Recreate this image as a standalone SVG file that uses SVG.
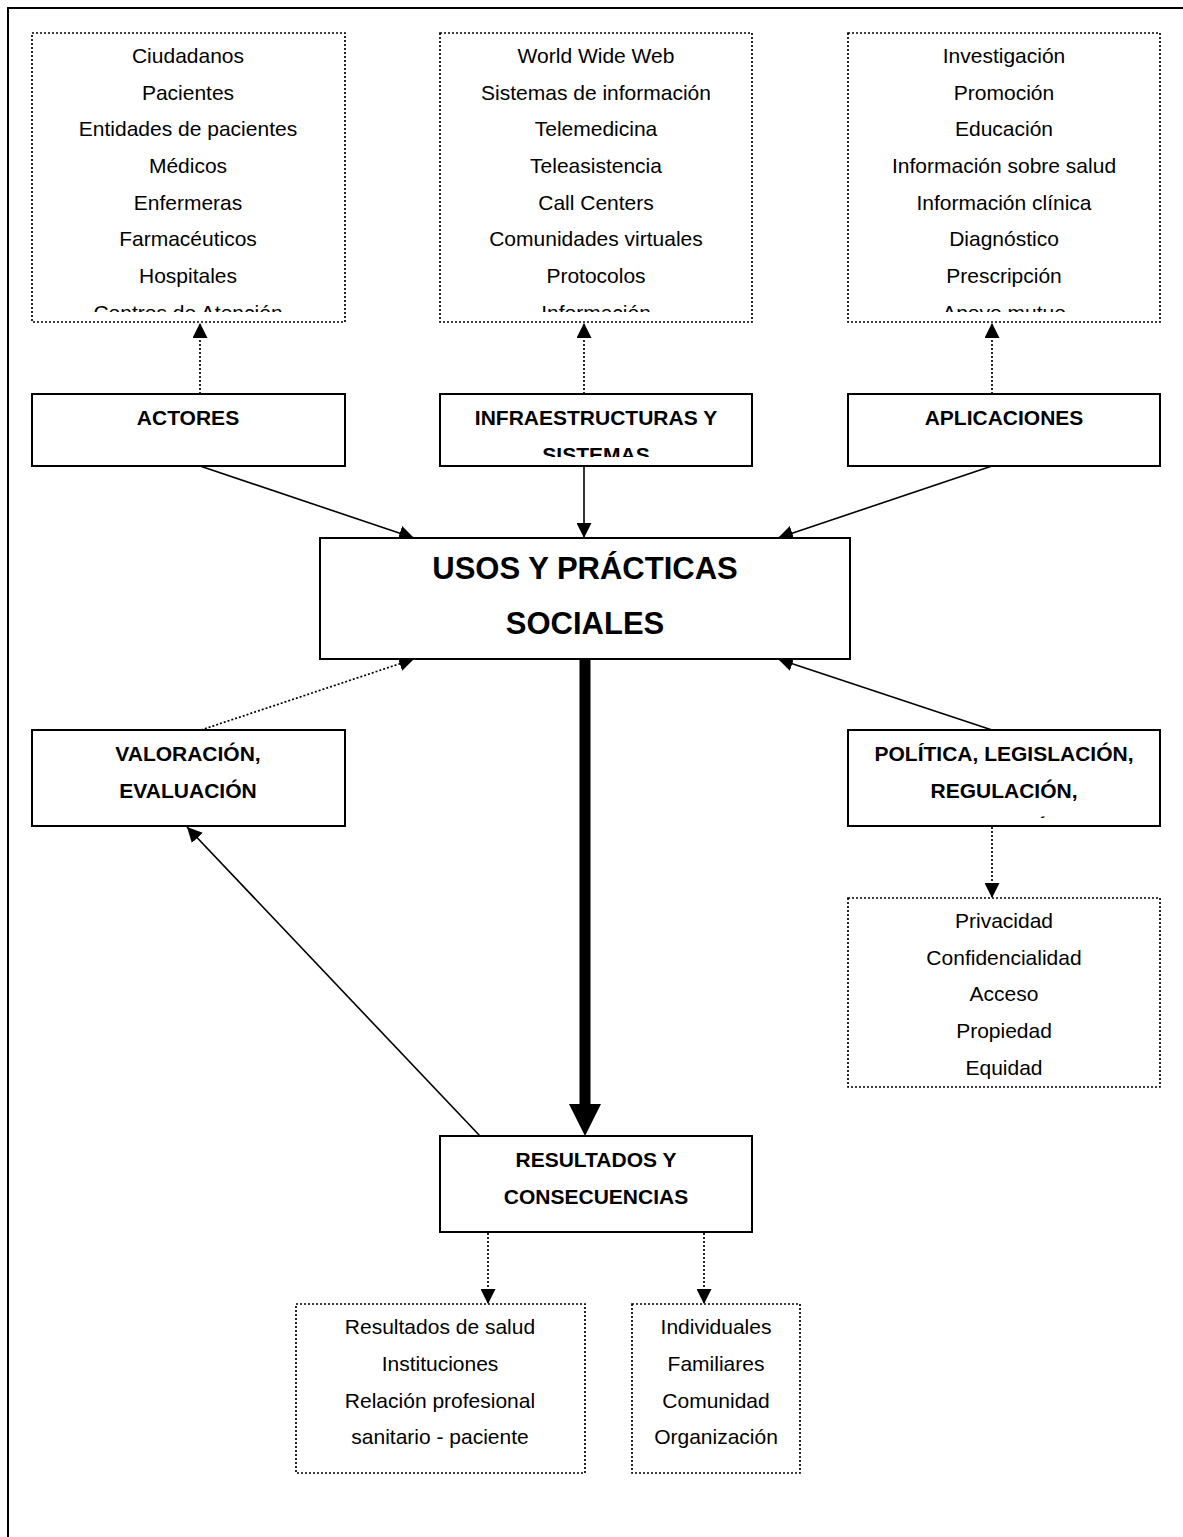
<svg xmlns="http://www.w3.org/2000/svg" width="1183" height="1537" viewBox="0 0 1183 1537">
<style>
.box{fill:#fff;stroke:#000;stroke-width:2}
.dbox{fill:#fff;stroke:#000;stroke-width:1.7;stroke-dasharray:2 2}
.t{font-family:"Liberation Sans",Arial,sans-serif;font-size:21px;fill:#000;text-anchor:middle}
.b{font-family:"Liberation Sans",Arial,sans-serif;font-size:21px;font-weight:bold;fill:#000;text-anchor:middle}
.big{font-family:"Liberation Sans",Arial,sans-serif;font-size:31px;font-weight:bold;fill:#000;text-anchor:middle}
.ln{stroke:#000;stroke-width:1.6;fill:none}
.dl{stroke:#000;stroke-width:1.7;stroke-dasharray:2 2;fill:none}
</style>
<defs>
<marker id="ah" viewBox="0 0 10 10" refX="10" refY="5" markerUnits="userSpaceOnUse" markerWidth="15" markerHeight="15" orient="auto">
<path d="M0,0 L10,5 L0,10 Z" fill="#000"/>
</marker>
<clipPath id="c1"><rect x="32" y="33" width="314" height="279"/></clipPath>
<clipPath id="c2"><rect x="440" y="33" width="313" height="279"/></clipPath>
<clipPath id="c3"><rect x="848" y="33" width="313" height="279"/></clipPath>
<clipPath id="c4"><rect x="440" y="394" width="313" height="63"/></clipPath>
<clipPath id="c5"><rect x="848" y="730" width="313" height="88"/></clipPath>
</defs>
<rect x="8" y="8" width="1200" height="1560" fill="none" stroke="#000" stroke-width="2"/>

<g id="connectors">
<line class="dl" x1="200" y1="394" x2="200" y2="323" marker-end="url(#ah)"/>
<line class="dl" x1="584" y1="394" x2="584" y2="323" marker-end="url(#ah)"/>
<line class="dl" x1="992" y1="394" x2="992" y2="323" marker-end="url(#ah)"/>
<line class="ln" x1="200" y1="466" x2="414" y2="538" marker-end="url(#ah)"/>
<line class="ln" x1="584" y1="466" x2="584" y2="538" marker-end="url(#ah)"/>
<line class="ln" x1="992" y1="466" x2="778" y2="538" marker-end="url(#ah)"/>
<line class="dl" x1="201" y1="730" x2="414" y2="659" marker-end="url(#ah)"/>
<line class="ln" x1="992" y1="730" x2="778" y2="659" marker-end="url(#ah)"/>
<line class="dl" x1="992" y1="827" x2="992" y2="898" marker-end="url(#ah)"/>
<line x1="585" y1="659" x2="585" y2="1106" stroke="#000" stroke-width="11"/>
<polygon points="569,1104 601,1104 585,1136" fill="#000"/>
<line class="ln" x1="480" y1="1136" x2="187" y2="827" marker-end="url(#ah)"/>
<line class="dl" x1="488" y1="1233" x2="488" y2="1304" marker-end="url(#ah)"/>
<line class="dl" x1="704" y1="1233" x2="704" y2="1304" marker-end="url(#ah)"/>
</g>

<g id="actores-list">
<rect class="dbox" x="32" y="33" width="313" height="289"/>
<g clip-path="url(#c1)">
<text class="t" x="188" y="63">Ciudadanos</text>
<text class="t" x="188" y="100">Pacientes</text>
<text class="t" x="188" y="136">Entidades de pacientes</text>
<text class="t" x="188" y="173">Médicos</text>
<text class="t" x="188" y="210">Enfermeras</text>
<text class="t" x="188" y="246">Farmacéuticos</text>
<text class="t" x="188" y="283">Hospitales</text>
<text class="t" x="188" y="320">Centros de Atención</text>
</g>
</g>

<g id="infra-list">
<rect class="dbox" x="440" y="33" width="312" height="289"/>
<g clip-path="url(#c2)">
<text class="t" x="596" y="63">World Wide Web</text>
<text class="t" x="596" y="100">Sistemas de información</text>
<text class="t" x="596" y="136">Telemedicina</text>
<text class="t" x="596" y="173">Teleasistencia</text>
<text class="t" x="596" y="210">Call Centers</text>
<text class="t" x="596" y="246">Comunidades virtuales</text>
<text class="t" x="596" y="283">Protocolos</text>
<text class="t" x="596" y="320">Información</text>
</g>
</g>

<g id="aplic-list">
<rect class="dbox" x="848" y="33" width="312" height="289"/>
<g clip-path="url(#c3)">
<text class="t" x="1004" y="63">Investigación</text>
<text class="t" x="1004" y="100">Promoción</text>
<text class="t" x="1004" y="136">Educación</text>
<text class="t" x="1004" y="173">Información sobre salud</text>
<text class="t" x="1004" y="210">Información clínica</text>
<text class="t" x="1004" y="246">Diagnóstico</text>
<text class="t" x="1004" y="283">Prescripción</text>
<text class="t" x="1004" y="320">Apoyo mutuo</text>
</g>
</g>

<g id="actores">
<rect class="box" x="32" y="394" width="313" height="72"/>
<text class="b" x="188" y="425">ACTORES</text>
</g>

<g id="infraestructuras">
<rect class="box" x="440" y="394" width="312" height="72"/>
<g clip-path="url(#c4)">
<text class="b" x="596" y="425">INFRAESTRUCTURAS Y</text>
<text class="b" x="596" y="462">SISTEMAS</text>
</g>
</g>

<g id="aplicaciones">
<rect class="box" x="848" y="394" width="312" height="72"/>
<text class="b" x="1004" y="425">APLICACIONES</text>
</g>

<g id="usos">
<rect class="box" x="320" y="538" width="530" height="121"/>
<text class="big" x="585" y="579">USOS Y PRÁCTICAS</text>
<text class="big" x="585" y="634">SOCIALES</text>
</g>

<g id="valoracion">
<rect class="box" x="32" y="730" width="313" height="96"/>
<text class="b" x="188" y="761">VALORACIÓN,</text>
<text class="b" x="188" y="798">EVALUACIÓN</text>
</g>

<g id="politica">
<rect class="box" x="848" y="730" width="312" height="96"/>
<g clip-path="url(#c5)">
<text class="b" x="1004" y="761">POLÍTICA, LEGISLACIÓN,</text>
<text class="b" x="1004" y="798">REGULACIÓN,</text>
<text class="b" x="988" y="835">FINANCIACIÓN</text>
</g>
</g>

<g id="politica-list">
<rect class="dbox" x="848" y="898" width="312" height="189"/>
<text class="t" x="1004" y="928">Privacidad</text>
<text class="t" x="1004" y="965">Confidencialidad</text>
<text class="t" x="1004" y="1001">Acceso</text>
<text class="t" x="1004" y="1038">Propiedad</text>
<text class="t" x="1004" y="1075">Equidad</text>
</g>

<g id="resultados">
<rect class="box" x="440" y="1136" width="312" height="96"/>
<text class="b" x="596" y="1167">RESULTADOS Y</text>
<text class="b" x="596" y="1204">CONSECUENCIAS</text>
</g>

<g id="resultados-list">
<rect class="dbox" x="296" y="1304" width="289" height="169"/>
<text class="t" x="440" y="1334">Resultados de salud</text>
<text class="t" x="440" y="1371">Instituciones</text>
<text class="t" x="440" y="1408">Relación profesional</text>
<text class="t" x="440" y="1444">sanitario - paciente</text>
</g>

<g id="ambitos-list">
<rect class="dbox" x="632" y="1304" width="168" height="169"/>
<text class="t" x="716" y="1334">Individuales</text>
<text class="t" x="716" y="1371">Familiares</text>
<text class="t" x="716" y="1408">Comunidad</text>
<text class="t" x="716" y="1444">Organización</text>
</g>
</svg>
